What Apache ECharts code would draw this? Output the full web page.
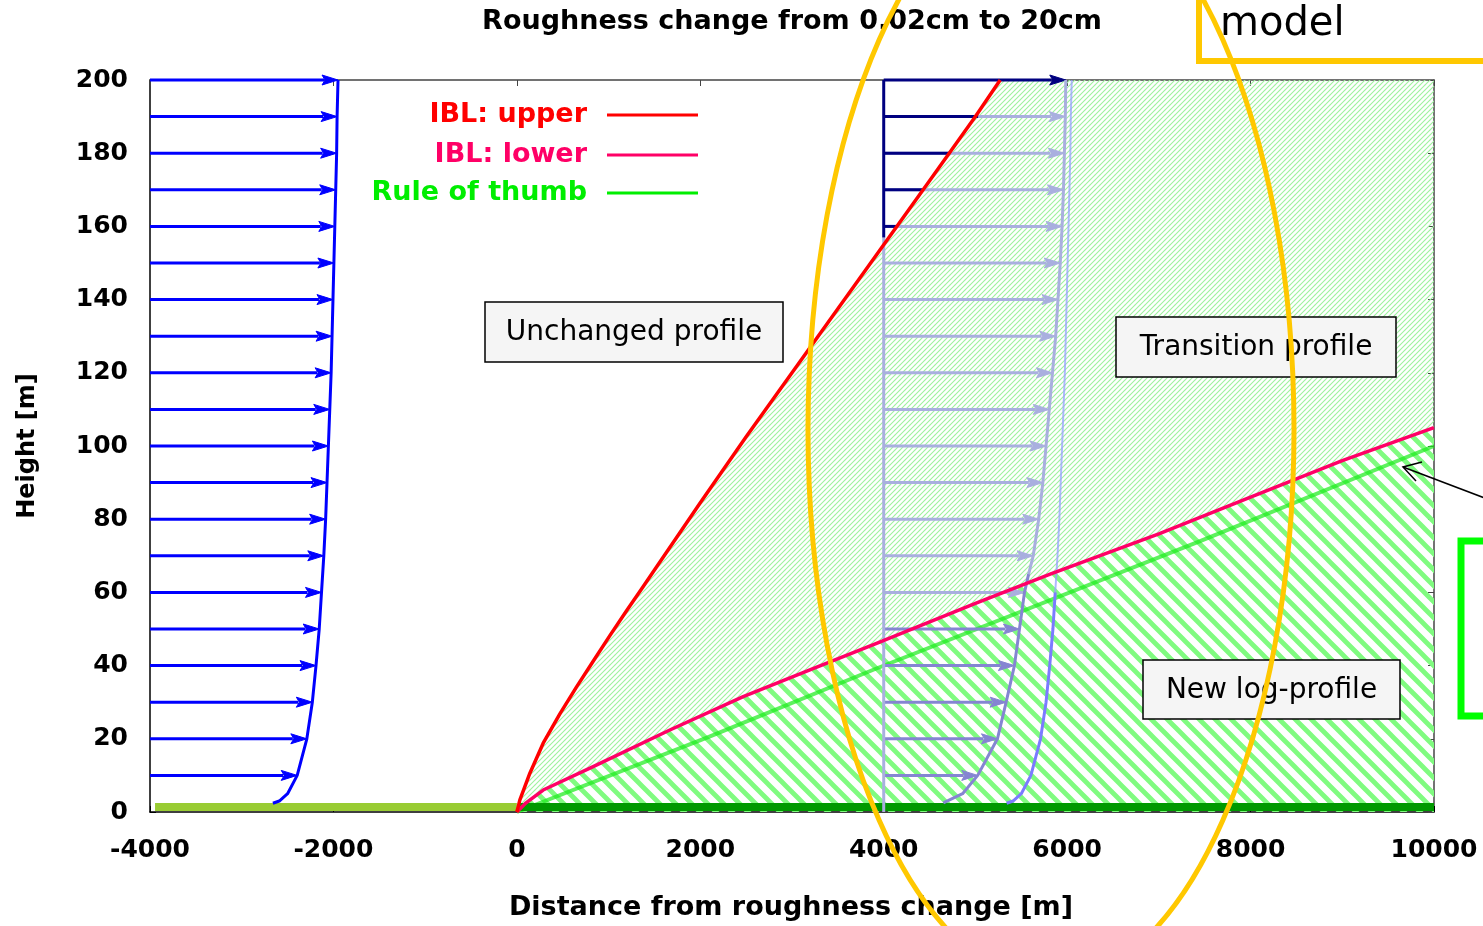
<!DOCTYPE html>
<html><head><meta charset="utf-8">
<script src="https://cdn.jsdelivr.net/npm/echarts@6/dist/echarts.min.js"></script>
<style>html,body{margin:0;padding:0;background:#fff}#c{width:1483px;height:926px}</style>
</head><body><div id="c"></div>
<script>
// ---------- data ----------
const titleText = 'Roughness change from 0.02cm to 20cm';
const xAxisTitle = 'Distance from roughness change [m]';
const yAxisTitle = 'Height [m]';
const xRange = [-4000, 10000];
const xStep = 2000;
const yRange = [0, 200];
const yStep = 20;

// internal boundary layer, upper and lower edge  [distance m, height m]
const iblUpper = [[0,0],[33,3.3],[142,10.6],[287,18.8],[469,26.8],[651,34.2],[832,41.2],[1014,48.2],[1196,55],[1378,61.6],[1541,67.6],[2000,84.5],[2500,102.5],[3000,120],[3500,137.5],[4000,155],[4500,172.5],[5000,190],[5270,200]];
const iblLower = [[0,0],[100,2.5],[287,6],[832,12.4],[1668,22.4],[2468,31.5],[3195,38.8],[3922,46.1],[5000,57],[5815,65],[7000,76],[8000,86],[9000,96],[10000,105]];
const ruleOfThumb = [[0,0],[2100,20.6],[3900,39],[7450,74],[10000,100]];

// unchanged (upstream) wind profile: height and arrow length in x-units
const profileZ = [2.4,3,5,10,20,30,40,50,60,70,80,90,100,110,120,130,140,150,160,170,180,190,200];
const profileU = [1340,1410,1500,1605,1710,1770,1810,1845,1870,1895,1915,1930,1945,1960,1975,1985,1995,2005,2015,2025,2035,2040,2050];
const upstreamOrigin = -4000;
const midOrigin = 4000;

// transition profile at x = 4000
const transZ = [2.5,5,10,20,30,40,50,60,65,70,80,90,100,110,120,130,140,150,160,170,180,190,200];
const transU = [650,860,1025,1240,1335,1425,1480,1535,1580,1630,1690,1735,1770,1805,1840,1875,1900,1925,1945,1960,1970,1980,1985];
const newLogTopZ = 65;           // top of the new log-profile part of the curve
const unchangedCopySplitZ = 67;  // where the copied upstream profile meets the lower IBL

const arrowZ = [10,20,30,40,50,60,70,80,90,100,110,120,130,140,150,160,170,180,190,200];
const midLowerArrowTopZ = 50;
// dark (unchanged) parts of the mid-profile arrows above the upper IBL
const navyZ = [160,170,180,190];
const navyEnd = [4146,4430,4724,5029];
const navyVerticalZ = [157,200];

// roughness surfaces on the ground
const groundFrom = [-3945, 30];
const groundTo = [0, 10000];

const legendLabels = ['IBL: upper','IBL: lower','Rule of thumb'];
const boxLabels = ['Unchanged profile','Transition profile','New log-profile'];

// ---------- styling helpers ----------
function hatch(size, lw, color, dir) {
  const c = document.createElement('canvas');
  c.width = size; c.height = size;
  const g = c.getContext('2d');
  g.strokeStyle = color; g.lineWidth = lw; g.lineCap = 'square';
  g.beginPath();
  if (dir === '/') {
    for (let k = -1; k <= 1; k++) { g.moveTo(k*size, size); g.lineTo(k*size + size, 0); }
  } else {
    for (let k = -1; k <= 1; k++) { g.moveTo(k*size, 0); g.lineTo(k*size + size, size); }
  }
  g.stroke();
  return c;
}
const fineHatch = hatch(5, 1.1, '#9ef29e', '/');
const coarseHatch = hatch(16, 4.8, '#80fb80', '\\');

const arrowPalette = ['#0000ff', '#8585d2', '#a9afdf', '#000080'];
const uAt = (zs, us, z) => us[zs.indexOf(z)];

const leftArrows = arrowZ.map(z => [upstreamOrigin, upstreamOrigin + uAt(profileZ, profileU, z), z, 0]);
const midArrows = arrowZ.map(z => [midOrigin, midOrigin + uAt(transZ, transU, z), z, z === 200 ? 3 : (z <= midLowerArrowTopZ ? 1 : 2)]);
const navySegs = navyZ.map((z, i) => [midOrigin, navyEnd[i], z, 3]);

function renderArrow(params, api) {
  const z = api.value(2);
  const p0 = api.coord([api.value(0), z]);
  const p1 = api.coord([api.value(1), z]);
  const col = arrowPalette[api.value(3)];
  const hl = 16, hw = 5;
  return { type: 'group', children: [
    { type: 'line', shape: { x1: p0[0], y1: p0[1], x2: p1[0] - hl + 2, y2: p1[1] }, style: { stroke: col, lineWidth: 3 } },
    { type: 'polygon', shape: { points: [[p1[0], p1[1]], [p1[0] - hl, p1[1] - hw], [p1[0] - hl + 3, p1[1]], [p1[0] - hl, p1[1] + hw]] }, style: { fill: col, stroke: col, lineWidth: 1 } }
  ]};
}
function renderSeg(params, api) {
  const z = api.value(2);
  const p0 = api.coord([api.value(0), z]);
  const p1 = api.coord([api.value(1), z]);
  return { type: 'line', shape: { x1: p0[0], y1: p0[1], x2: p1[0], y2: p1[1] }, style: { stroke: arrowPalette[api.value(3)], lineWidth: 3 } };
}
function renderTransition(params, api) {
  const pts = iblUpper.map(p => api.coord(p))
    .concat([api.coord([xRange[1], yRange[1]])])
    .concat(iblLower.slice().reverse().map(p => api.coord(p)));
  return { type: 'polygon', shape: { points: pts }, style: { fill: { image: fineHatch, repeat: 'repeat' } } };
}
function renderNewLog(params, api) {
  const pts = iblLower.map(p => api.coord(p)).concat([api.coord([xRange[1], 0])]);
  return { type: 'polygon', shape: { points: pts }, style: { fill: { image: coarseHatch, repeat: 'repeat' } } };
}
const groundColors = ['#99cc33', '#009900'];
function renderGround(params, api) {
  const a = api.coord([api.value(0), 0]);
  const b = api.coord([api.value(1), 0]);
  return { type: 'rect', shape: { x: a[0], y: a[1] - 9, width: b[0] - a[0], height: 8 }, style: { fill: groundColors[params.dataIndex] } };
}

const pairs = (zs, us, origin, filt) => zs.map((z, i) => [origin + us[i], z]).filter(p => filt(p[1]));

const FAM = '"DejaVu Sans", Verdana, sans-serif';
const labelFont = { fontFamily: FAM, fontWeight: 'bold', fontSize: 25, color: '#000', formatter: v => String(v) };

const chart = echarts.init(document.getElementById('c'), null, { renderer: 'canvas' });
const plainLine = (name, data, color, width, z) => ({ type: 'line', name, data, showSymbol: false, lineStyle: { color, width, join: 'round' }, z });
const option = {
  animation: false,
  backgroundColor: '#fff',
  grid: { left: 150, right: 49, top: 80, bottom: 114, containLabel: false, outerBoundsMode: 'none' },
  xAxis: [
    { type: 'value', min: xRange[0], max: xRange[1], interval: xStep, position: 'bottom',
      axisLine: { show: true, onZero: false, lineStyle: { color: '#000', width: 1.5 } },
      axisTick: { show: true, inside: true, length: 6, lineStyle: { color: '#000' } },
      axisLabel: Object.assign({ margin: 26 }, labelFont), splitLine: { show: false } },
    { type: 'value', min: xRange[0], max: xRange[1], interval: xStep, position: 'top',
      axisLine: { show: true, onZero: false, lineStyle: { color: '#444', width: 1.5 } },
      axisTick: { show: true, inside: true, length: 6, lineStyle: { color: '#444' } },
      axisLabel: { show: false }, splitLine: { show: false } }
  ],
  yAxis: [
    { type: 'value', min: yRange[0], max: yRange[1], interval: yStep, position: 'left',
      axisLine: { show: true, onZero: false, lineStyle: { color: '#000', width: 1.5 } },
      axisTick: { show: true, inside: true, length: 6, lineStyle: { color: '#000' } },
      axisLabel: Object.assign({ margin: 22 }, labelFont), splitLine: { show: false } },
    { type: 'value', min: yRange[0], max: yRange[1], interval: yStep, position: 'right',
      axisLine: { show: true, onZero: false, lineStyle: { color: '#444', width: 1.5 } },
      axisTick: { show: true, inside: true, length: 6, lineStyle: { color: '#444' } },
      axisLabel: { show: false }, splitLine: { show: false } }
  ],
  series: [
    { type: 'custom', name: 'transition zone', renderItem: renderTransition, data: [[xRange[0], 0]], encode: { x: 0, y: 1 }, z: 1, silent: true },
    { type: 'custom', name: 'new log zone', renderItem: renderNewLog, data: [[xRange[0], 0]], encode: { x: 0, y: 1 }, z: 1, silent: true },
    plainLine('Rule of thumb', ruleOfThumb, 'rgba(25,235,25,0.7)', 4, 2),
    { type: 'custom', name: 'ground', renderItem: renderGround, data: groundFrom.map((f, i) => [f, groundTo[i]]), encode: { x: [0, 1] }, z: 3 },
    // upstream profile
    plainLine('upstream profile', pairs(profileZ, profileU, upstreamOrigin, () => true), '#0000ff', 3, 4),
    { type: 'custom', name: 'upstream arrows', renderItem: renderArrow, data: leftArrows, encode: { x: [0, 1], y: 2 }, z: 4 },
    // copy of the upstream profile at x = 4000
    plainLine('unchanged copy upper', pairs(profileZ, profileU, midOrigin, z => z >= unchangedCopySplitZ - 7), 'rgba(150,160,255,0.75)', 2, 4),
    plainLine('unchanged copy lower', pairs(profileZ, profileU, midOrigin, z => z <= unchangedCopySplitZ), '#7b7bff', 3, 4),
    // transition profile
    plainLine('baseline lower', [[midOrigin, 0], [midOrigin, navyVerticalZ[0]]], '#a9afdf', 3, 5),
    plainLine('baseline upper', navyVerticalZ.map(z => [midOrigin, z]), '#000080', 3, 6),
    plainLine('transition upper', pairs(transZ, transU, midOrigin, z => z >= newLogTopZ), '#a9afdf', 3, 5),
    plainLine('transition lower', pairs(transZ, transU, midOrigin, z => z <= newLogTopZ), '#8585d2', 3, 5),
    { type: 'custom', name: 'mid arrows', renderItem: renderArrow, data: midArrows, encode: { x: [0, 1], y: 2 }, z: 5 },
    { type: 'custom', name: 'mid navy parts', renderItem: renderSeg, data: navySegs, encode: { x: [0, 1], y: 2 }, z: 6 },
    // IBL lines
    plainLine('IBL: lower', iblLower, '#ff0066', 3.5, 7),
    plainLine('IBL: upper', iblUpper, '#ff0000', 3.5, 7)
  ],
  graphic: { elements: [] }
};

const G = option.graphic.elements;
const txt = (text, x, y, font, color, align, extra) => Object.assign({
  type: 'text', x, y, z: 50,
  style: Object.assign({ text, fill: color || '#000', align: align || 'center', verticalAlign: 'middle',
    textAlign: align || 'center', textVerticalAlign: 'middle' }, font)
}, extra || {});
const boldFont = { fontFamily: FAM, fontWeight: 'bold', fontSize: 27 };
const yNameFont = { fontFamily: FAM, fontWeight: 'bold', fontSize: 24 };
const boxFont = { fontFamily: FAM, fontSize: 28 };

G.push(txt(titleText, 792, 22, boldFont));
G.push(txt(xAxisTitle, 791, 908, boldFont));
G.push(txt(yAxisTitle, 28, 446, yNameFont, '#000', 'center', { rotation: Math.PI / 2 }));

// legend
const legendColors = ['#ff0000', '#ff0066', '#00ee00'];
const legendY = [115, 155, 193];
legendLabels.forEach((l, i) => {
  G.push(txt(l, 587, legendY[i], boldFont, legendColors[i], 'right'));
  G.push({ type: 'line', z: 50, shape: { x1: 607, y1: legendY[i], x2: 698, y2: legendY[i] }, style: { stroke: legendColors[i], lineWidth: 3 } });
});

// labelled boxes
const boxes = [[485, 302, 298, 60], [1116, 317, 280, 60], [1143, 660, 257, 59]];
boxLabels.forEach((l, i) => {
  const b = boxes[i];
  G.push({ type: 'rect', z: 50, shape: { x: b[0], y: b[1], width: b[2], height: b[3] }, style: { fill: '#f5f5f5', stroke: '#000', lineWidth: 1.5 } });
  G.push(txt(l, b[0] + b[2] / 2, b[1] + b[3] / 2 + 1, boxFont));
});

// annotations drawn over the chart
G.push({ type: 'ellipse', z: 90, shape: { cx: 1051, cy: 430, rx: 243, ry: 552 }, style: { fill: 'transparent', stroke: '#ffc800', lineWidth: 5 } });
G.push({ type: 'polyline', z: 90, shape: { points: [[1199, -5], [1199, 61], [1490, 61]] }, style: { fill: 'transparent', stroke: '#ffc800', lineWidth: 6 } });
G.push(txt('model', 1220, 25, { fontFamily: FAM, fontSize: 40 }, '#000', 'left'));
G.push({ type: 'rect', z: 90, shape: { x: 1461, y: 541, width: 60, height: 175 }, style: { fill: 'transparent', stroke: '#00ff00', lineWidth: 7 } });
G.push({ type: 'polyline', z: 90, shape: { points: [[1490, 500], [1403, 467]] }, style: { fill: 'transparent', stroke: '#000', lineWidth: 1.5 } });
G.push({ type: 'polyline', z: 90, shape: { points: [[1422, 462], [1403, 467], [1416, 481]] }, style: { fill: 'transparent', stroke: '#000', lineWidth: 1.5 } });

chart.setOption(option);
</script></body></html>
